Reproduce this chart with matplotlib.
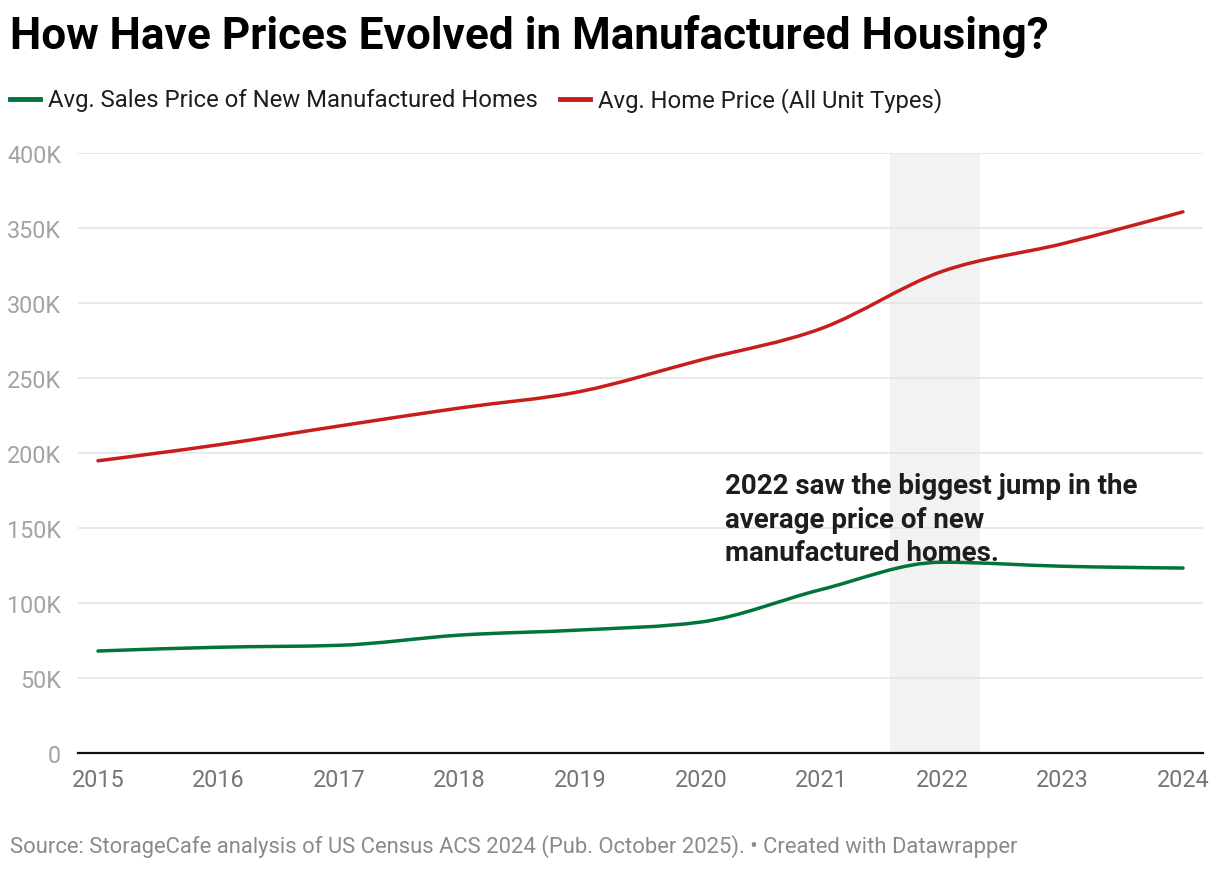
import numpy as np
import matplotlib
matplotlib.use("Agg")
import matplotlib.pyplot as plt
from matplotlib.path import Path
from matplotlib.patches import PathPatch
from matplotlib.lines import Line2D
from matplotlib.ticker import FuncFormatter

plt.rcParams['font.family'] = ['Roboto', 'DejaVu Sans']

years = [2015, 2016, 2017, 2018, 2019, 2020, 2021, 2022, 2023, 2024]
new_manufactured = [68000, 70500, 71800, 78600, 82000, 87300, 109000, 127200, 124500, 123300]
all_homes = [194800, 205500, 218000, 230000, 241000, 262000, 283000, 321000, 339500, 360800]

series_labels = ["Avg. Sales Price of New Manufactured Homes", "Avg. Home Price (All Unit Types)"]
series_colors = ["#00743a", "#c71e1d"]

SHADE = "#f2f2f2"
highlight = (2021.57, 2022.32)


def monotone_path(x, y):
    # same shape as d3's curveMonotoneX: cubic bezier segments
    x = np.asarray(x, float)
    y = np.asarray(y, float)
    h = np.diff(x)
    s = np.diff(y) / h
    t = np.zeros(len(x))
    for i in range(1, len(x) - 1):
        if s[i - 1] * s[i] <= 0:
            t[i] = 0
        else:
            p = (s[i - 1] * h[i] + s[i] * h[i - 1]) / (h[i - 1] + h[i])
            t[i] = (np.sign(s[i - 1]) + np.sign(s[i])) * min(abs(s[i - 1]), abs(s[i]), 0.5 * abs(p))
    t[0] = (3 * s[0] - t[1]) / 2
    t[-1] = (3 * s[-1] - t[-2]) / 2
    verts = [(x[0], y[0])]
    codes = [Path.MOVETO]
    for i in range(len(x) - 1):
        dx = h[i] / 3
        verts += [(x[i] + dx, y[i] + dx * t[i]),
                  (x[i + 1] - dx, y[i + 1] - dx * t[i + 1]),
                  (x[i + 1], y[i + 1])]
        codes += [Path.CURVE4] * 3
    return Path(verts, codes)


fig = plt.figure(figsize=(12.2, 8.7), dpi=100)
ax = fig.add_axes([78 / 1220, 1 - 754 / 870, 1125 / 1220, 600 / 870])

ax.axvspan(*highlight, color=SHADE, lw=0, zorder=0)

for vals, col in zip([new_manufactured, all_homes], series_colors):
    patch = PathPatch(monotone_path(years, vals), facecolor='none', edgecolor=col,
                      lw=2.5, capstyle='round', zorder=3)
    ax.add_patch(patch)

ax.set_xlim(2015 - 20 / 120.56, 2024 + 20 / 120.56)
ax.set_ylim(0, 400000)
ax.set_xticks(years)
ax.set_yticks(np.arange(0, 400001, 50000))
ax.yaxis.set_major_formatter(FuncFormatter(lambda v, p: "0" if v == 0 else f"{int(v / 1000)}K"))

ax.grid(axis='y', color='#e3e3e3', lw=1.1, zorder=1)
ax.set_axisbelow(True)
for sp in ['top', 'right', 'left']:
    ax.spines[sp].set_visible(False)
ax.spines['bottom'].set_color('#111111')
ax.spines['bottom'].set_linewidth(1.6)
ax.spines['bottom'].set_zorder(4)

ax.tick_params(axis='y', length=0, pad=12, labelsize=16.8, labelcolor='#a3a3a3')
ax.tick_params(axis='x', length=0, pad=11, labelsize=16.8, labelcolor='#757575')

ax.text(2020.2, 187000, "2022 saw the biggest jump in the\naverage price of new\nmanufactured homes.",
        fontsize=20, fontweight='bold', color='#1d1d1d', va='top', ha='left',
        linespacing=1.3, zorder=5)

fig.text(10 / 1220, 1 - 36 / 870, "How Have Prices Evolved in Manufactured Housing?",
         fontsize=31.8, fontweight='bold', color='#000000', va='center', ha='left')

# legend
leg_x = [(10, 48), (560, 598)]
for (mx, tx), lab, col in zip(leg_x, series_labels, series_colors):
    fig.add_artist(Line2D([mx / 1220, (mx + 30) / 1220], [1 - 100 / 870, 1 - 100 / 870],
                          color=col, lw=3.5, transform=fig.transFigure))
    fig.text(tx / 1220, 1 - 101 / 870, lab, fontsize=17.2, color='#1d1d1d', va='center', ha='left')

fig.text(10 / 1220, 1 - 847 / 870,
         "Source: StorageCafe analysis of US Census ACS 2024 (Pub. October 2025). \u2022 Created with Datawrapper",
         fontsize=15.8, color='#8a8a8a', va='center', ha='left')

fig.savefig("out.png", dpi=100)
